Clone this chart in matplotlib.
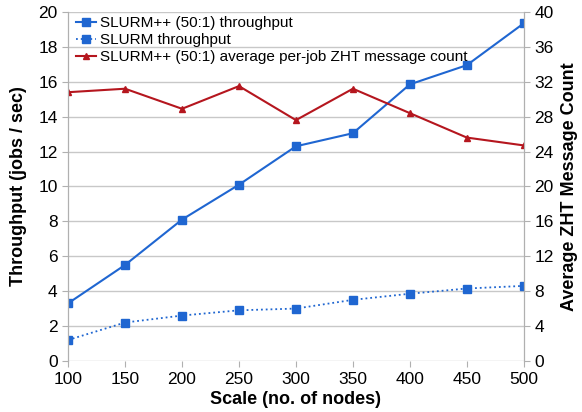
import matplotlib
matplotlib.use("Agg")
import matplotlib.pyplot as plt

plt.rcParams['font.family'] = ['Liberation Sans', 'DejaVu Sans']

# data
scale = [100, 150, 200, 250, 300, 350, 400, 450, 500]
slurmpp_tput = [3.3, 5.5, 8.1, 10.1, 12.3, 13.05, 15.85, 16.95, 19.35]
slurm_tput = [1.2, 2.2, 2.6, 2.9, 3.0, 3.5, 3.85, 4.15, 4.3]
zht_msgs = [30.8, 31.2, 28.9, 31.5, 27.6, 31.2, 28.4, 25.6, 24.7]

blue = '#1f66d1'
red = '#b5161e'

fig = plt.figure(figsize=(5.82, 4.12), dpi=100)
ax = fig.add_axes([0.117, 0.124, 0.783, 0.847])
ax2 = ax.twinx()

l1, = ax.plot(scale, slurmpp_tput, '-s', color=blue, lw=1.5, ms=6,
              label='SLURM++ (50:1) throughput')
l2, = ax.plot(scale, slurm_tput, ':s', color=blue, lw=1.3, ms=6,
              label='SLURM throughput')
l3, = ax2.plot(scale, zht_msgs, '-^', color=red, lw=1.5, ms=5,
               label='SLURM++ (50:1) average per-job ZHT message count')

ax.set_xlim(100, 500)
ax.set_ylim(0, 20)
ax.set_yticks(range(0, 21, 2))
ax2.set_ylim(0, 40)
ax2.set_yticks(range(0, 41, 4))
ax.set_xticks(scale)

ax.grid(axis='y', color='#c8c8c8', lw=1)
ax.set_axisbelow(True)
for a in (ax, ax2):
    a.spines['top'].set_visible(False)
    a.spines['left'].set_color('#b0b0b0')
    a.spines['right'].set_color('#b0b0b0')
    a.spines['bottom'].set_visible(False)
    a.tick_params(labelsize=12.5, color='#b0b0b0', length=4)
ax.tick_params(axis='x', length=4, pad=4)

ax.set_xlabel('Scale (no. of nodes)', fontsize=13, fontweight='bold', labelpad=3)
ax.set_ylabel('Throughput (jobs / sec)', fontsize=13, fontweight='bold', labelpad=8)
ax2.set_ylabel('Average ZHT Message Count', fontsize=13, fontweight='bold', labelpad=5)

ax.legend(handles=[l1, l2, l3], loc='upper left', frameon=False, fontsize=11,
          handlelength=1.3, handletextpad=0.3, labelspacing=0.2,
          borderaxespad=0.1, bbox_to_anchor=(0.0, 1.01))

fig.savefig('out.png', dpi=100)
